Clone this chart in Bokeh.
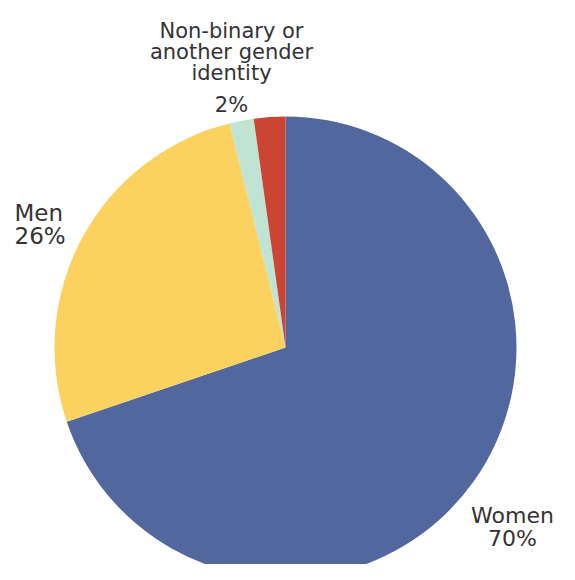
import numpy as np
from bokeh.plotting import figure
from bokeh.models import Range1d, ColumnDataSource
from bokeh.core.properties import value
from bokeh.embed import file_html
from bokeh.resources import INLINE

categories = ["Women", "Men", "Non-binary or another gender identity", "Not stated"]
shares = [69.8, 26.3, 1.7, 2.2]
colors = ["#53679f", "#fbd260", "#bfe4d3", "#cc4434"]

W, H = 559, 564
p = figure(width=W, height=H, output_backend="svg", toolbar_location=None,
           x_range=Range1d(0, W), y_range=Range1d(580 - H, 580),
           min_border=0, outline_line_color=None, background_fill_color="white")
p.axis.visible = False
p.grid.visible = False

def Y(py):
    return 580 - py

cx, cy, r = 285, Y(347), 231
fr = np.array(shares) / sum(shares)
ends = 90 - np.cumsum(fr) * 360
starts = np.concatenate([[90], ends[:-1]])
src = ColumnDataSource(dict(start=np.radians(starts), end=np.radians(ends), color=colors, cat=categories))
p.wedge(x=cx, y=cy, radius=r, start_angle="start", end_angle="end", direction="clock",
        fill_color="color", line_color=None, source=src)

font = value("DejaVu Sans")
tc = "#333333"

def label(lines, x, ys, align, fs):
    p.text(x=[x] * len(lines), y=[Y(v) for v in ys], text=lines, text_font=font,
           text_font_size=fs, text_color=tc, text_align=align, text_baseline="alphabetic")

label(["Non-binary or", "another gender", "identity", f"{round(shares[2])}%"], 231, [30, 51, 72, 104], "center", "21px")
label(["Men", f"{round(shares[1])}%"], 14, [212, 235], "left", "23px")
label(["Women", f"{round(shares[0])}%"], 512, [515, 538], "center", "22px")

open("out.html", "w").write(file_html(p, INLINE))
